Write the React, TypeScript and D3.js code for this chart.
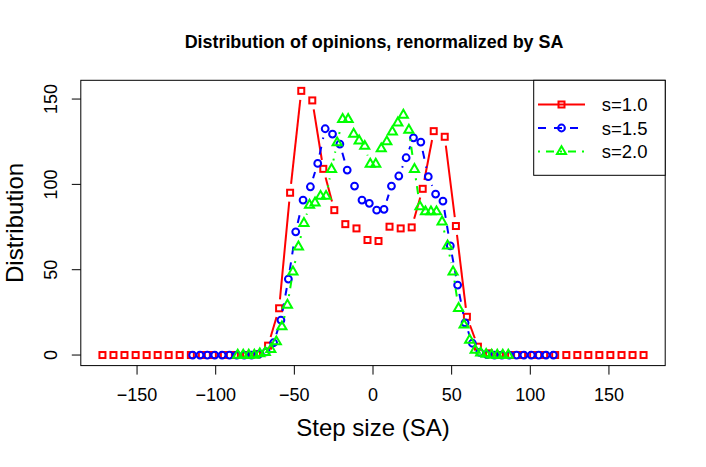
import * as d3 from "d3";

// bin centres of the step-size histogram for s = 1.0 (other series are divided by s)
const binCenters = [
  -172.0, -165.0, -158.0, -150.9, -143.9, -136.9, -129.9, -122.9, -115.8, -108.8,
  -101.8, -94.8, -87.8, -80.7, -73.7, -66.7, -59.7, -52.7, -45.6, -38.6,
  -31.6, -24.6, -17.6, -10.5, -3.5, 3.5, 10.5, 17.6, 24.6, 31.6,
  38.6, 45.6, 52.7, 59.7, 66.7, 73.7, 80.7, 87.8, 94.8, 101.8,
  108.8, 115.8, 122.9, 129.9, 136.9, 143.9, 150.9, 158.0, 165.0, 172.0,
];

const sValues = [1.0, 1.5, 2.0];
const seriesLabels = ["s=1.0", "s=1.5", "s=2.0"];

const distS10 = [
  0, 0, 0, 0, 0, 0, 0, 0, 0, 0,
  0, 0, 0, 0, 0.5, 5.5, 27.4, 95.1, 154.8, 149.2,
  109.1, 84.9, 76.7, 74.2, 67.4, 66.8, 75.2, 74.2, 74.8, 97.4,
  131.2, 127.9, 75.6, 22.4, 4.9, 1, 0, 0, 0, 0,
  0, 0, 0, 0, 0, 0, 0, 0, 0, 0,
];

const distS15 = [
  0, 0, 0, 0, 0, 0, 0, 0, 0, 0.5,
  1.9, 7.2, 20.5, 44.5, 72.2, 90.8, 98.6, 112.3, 132.6, 129.5,
  123.6, 108.4, 99.0, 90.8, 88.9, 84.9, 85.4, 99.0, 104.9, 115.6,
  127.3, 124.8, 104.5, 94.3, 90.2, 64.0, 41.0, 18.9, 6.9, 1.5,
  0.3, 0, 0, 0, 0, 0, 0, 0, 0, 0,
];

const distS20 = [
  0, 0, 0, 0, 0.8, 1.5, 3.3, 7.8, 16.6, 29.3,
  48.8, 63.4, 77.2, 87.9, 89.2, 93.1, 93.1, 108.8, 124.4, 138.1,
  138.1, 129.5, 125.5, 122.4, 111.9, 111.9, 120.9, 125.0, 130.8, 136.1,
  140.6, 131.8, 108.8, 86.9, 84.0, 84.0, 84.0, 78.1, 64.0, 48.8,
  27.4, 17.6, 8.8, 2.9, 1.2, 0.5, 0, 0, 0, 0,
];

const xTicks = [-150, -100, -50, 0, 50, 100, 150];
const yTicks = [0, 50, 100, 150];

const W = 706;
const H = 467;
const plot = { left: 80.8, right: 665.2, top: 80.3, bottom: 365.6 };
const font = "'Liberation Sans', Arial, Helvetica, sans-serif";
const GAP = 9;

const styles = [
  { color: "#FF0000", dash: undefined as string | undefined, shape: "square" },
  { color: "#0000FF", dash: "8,8", shape: "circle" },
  { color: "#00FF00", dash: "2,6,8,6", shape: "triangle" },
];

const allSeries = [distS10, distS15, distS20].map((vals, i) =>
  vals.map((v, k) => ({ x: binCenters[k] / sValues[i], y: v }))
);

function Marker({ shape, cx, cy, color }: { shape: string; cx: number; cy: number; color: string }) {
  const common = { fill: "none", stroke: color, strokeWidth: 2 };
  if (shape === "square") return <rect x={cx - 3} y={cy - 3} width={6} height={6} {...common} />;
  if (shape === "circle") return <circle cx={cx} cy={cy} r={3.4} {...common} />;
  const pts = [
    [cx, cy - 5.25],
    [cx + 4.55, cy + 2.62],
    [cx - 4.55, cy + 2.62],
  ]
    .map((p) => p.join(","))
    .join(" ");
  return <polygon points={pts} {...common} />;
}

export default function App() {
  const xs = allSeries.flat().map((d) => d.x);
  const [xmin, xmax] = d3.extent(xs) as [number, number];
  const xpad = 0.04 * (xmax - xmin);
  const x = d3.scaleLinear().domain([xmin - xpad, xmax + xpad]).range([plot.left, plot.right]);

  const ymax = d3.max(allSeries.flat(), (d) => d.y)!;
  const y = d3.scaleLinear().domain([-0.04 * ymax, 1.04 * ymax]).range([plot.bottom, plot.top]);

  const fmt = (v: number) => (v < 0 ? "\u2212" + Math.abs(v) : String(v));

  const legendRows = [104.5, 128, 151.5];

  return (
    <div style={{ position: "absolute", left: 0, top: 0 }}>
      <svg width={W} height={H} style={{ display: "block", background: "white" }} fontFamily={font}>
        <text x={(plot.left + plot.right) / 2 + 1} y={48} textAnchor="middle" fontSize={17.9} fontWeight="bold">
          Distribution of opinions, renormalized by SA
        </text>

        {/* series: type "b" lines with gaps around points */}
        {allSeries.map((pts, i) => {
          const st = styles[i];
          const px = pts.map((d) => [x(d.x), y(d.y)]);
          return (
            <g key={"s" + i}>
              {px.slice(1).map((p1, j) => {
                const p0 = px[j];
                const dx = p1[0] - p0[0];
                const dy = p1[1] - p0[1];
                const L = Math.hypot(dx, dy);
                if (L <= 2 * GAP) return null;
                const ux = dx / L;
                const uy = dy / L;
                return (
                  <line
                    key={j}
                    x1={p0[0] + ux * GAP}
                    y1={p0[1] + uy * GAP}
                    x2={p1[0] - ux * GAP}
                    y2={p1[1] - uy * GAP}
                    stroke={st.color}
                    strokeWidth={2}
                    strokeDasharray={st.dash}
                  />
                );
              })}
              {px.map((p, j) => (
                <Marker key={"m" + j} shape={st.shape} cx={p[0]} cy={p[1]} color={st.color} />
              ))}
            </g>
          );
        })}

        {/* box */}
        <rect
          x={plot.left}
          y={plot.top}
          width={plot.right - plot.left}
          height={plot.bottom - plot.top}
          fill="none"
          stroke="black"
          strokeWidth={1}
        />

        {/* x axis */}
        {xTicks.map((t) => (
          <g key={"xt" + t}>
            <line x1={x(t)} x2={x(t)} y1={plot.bottom} y2={plot.bottom + 9} stroke="black" />
            <text x={x(t)} y={401} textAnchor="middle" fontSize={18}>
              {fmt(t)}
            </text>
          </g>
        ))}
        <text x={(plot.left + plot.right) / 2} y={436} textAnchor="middle" fontSize={24}>
          Step size (SA)
        </text>

        {/* y axis */}
        {yTicks.map((t) => (
          <g key={"yt" + t}>
            <line x1={plot.left - 9} x2={plot.left} y1={y(t)} y2={y(t)} stroke="black" />
            <text transform={`translate(57,${y(t)}) rotate(-90)`} textAnchor="middle" fontSize={18}>
              {fmt(t)}
            </text>
          </g>
        ))}
        <text
          transform={`translate(22.5,${(plot.top + plot.bottom) / 2}) rotate(-90)`}
          textAnchor="middle"
          fontSize={24}
        >
          Distribution
        </text>

        {/* legend */}
        <rect x={533.7} y={plot.top} width={plot.right - 533.7} height={175.3 - plot.top} fill="white" stroke="black" />
        {seriesLabels.map((lab, i) => {
          const st = styles[i];
          const cy = legendRows[i];
          return (
            <g key={"lg" + i}>
              <line x1={538} x2={585} y1={cy} y2={cy} stroke={st.color} strokeWidth={2} strokeDasharray={st.dash} />
              <Marker shape={st.shape} cx={561.5} cy={cy} color={st.color} />
              <text x={601.7} y={cy + 6.7} fontSize={18.5}>
                {lab}
              </text>
            </g>
          );
        })}
      </svg>
    </div>
  );
}
